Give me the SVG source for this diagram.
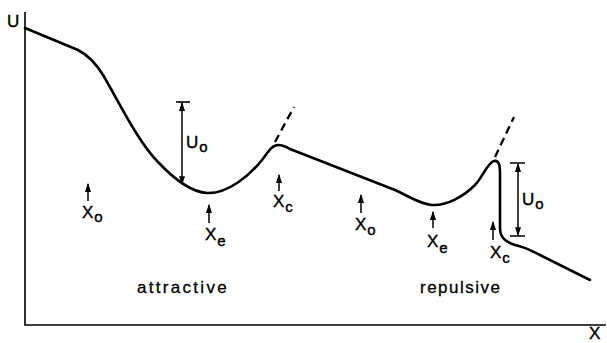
<svg xmlns="http://www.w3.org/2000/svg" width="607" height="343" viewBox="0 0 607 343">
<defs>
<marker id="ah" viewBox="0 0 8 6" refX="7" refY="3" markerWidth="9" markerHeight="7" markerUnits="userSpaceOnUse" orient="auto">
<path d="M0,0.3 L8,3 L0,5.7 z" fill="#000"/>
</marker>
<style>
.t{font-family:"Liberation Sans",Arial,sans-serif;fill:#000;stroke:#000;stroke-width:0.4}
.big{font-size:17px}
.sub{font-size:15px}
.word{font-size:17px;stroke-width:0.3}
.ar{stroke:#000;stroke-width:1.5;fill:none;marker-end:url(#ah)}
.ax{stroke:#000;stroke-width:1.6;fill:none}
.cv{stroke:#000;stroke-width:2.6;fill:none;stroke-linejoin:round;stroke-linecap:round}
.ds{stroke:#000;stroke-width:2.3;fill:none;stroke-dasharray:8,5}
</style>
</defs>
<rect width="607" height="343" fill="#fff"/>
<g id="axes">
<path class="ax" d="M25,12 L25,325 L606,325"/>
<text class="t big" x="7" y="27">U</text>
<text class="t big" x="589" y="339">X</text>
</g>
<g id="curve">
<path class="cv" d="M25,28 L78,50 C88,55 95,62 103,75 C118,100 138,142 158,162 C174,179 190,192 207,193 C228,194 250,175 262,160 C268,152 272,145 278,145 C282,145 285,146 290,149 L395,190 C410,197 420,204 432,205 C448,206 465,195 475,185 C482,178 488,162 494,161 C500,160 500,168 500,175 L500,228 C500,238 506,242 515,245 C525,247 530,250 540,255 L590,280"/>
<path class="ds" d="M275,142 L294,107"/>
<path class="ds" d="M495,157 L514,117"/>
</g>
<g id="connectors">
<path class="ax" d="M176,102 L190,102"/>
<path class="ar" d="M182,140 L182,103"/>
<path class="ar" d="M182,140 L182,184"/>
<path class="ax" d="M510,163 L525,163 M510,236 L525,236"/>
<path class="ar" d="M518,200 L518,164"/>
<path class="ar" d="M518,200 L518,235"/>
<path class="ar" d="M88,201 L88,184"/>
<path class="ar" d="M209,223 L209,205"/>
<path class="ar" d="M279,191 L279,175"/>
<path class="ar" d="M361,213 L361,195"/>
<path class="ar" d="M433,228 L433,212"/>
<path class="ar" d="M493,240 L493,222"/>
</g>
<g id="labels">
<text class="t big" x="186" y="148">U<tspan class="sub" dx="1" dy="4">o</tspan></text>
<text class="t big" x="522" y="205">U<tspan class="sub" dx="1" dy="4">o</tspan></text>
<text class="t big" x="82" y="218">X<tspan class="sub" dx="1" dy="4">o</tspan></text>
<text class="t big" x="205" y="240">X<tspan class="sub" dx="1" dy="6">e</tspan></text>
<text class="t big" x="273" y="207">X<tspan class="sub" dx="1" dy="5">c</tspan></text>
<text class="t big" x="355" y="230">X<tspan class="sub" dx="1" dy="5">o</tspan></text>
<text class="t big" x="427" y="247">X<tspan class="sub" dx="1" dy="6">e</tspan></text>
<text class="t big" x="490" y="258">X<tspan class="sub" dx="1" dy="5">c</tspan></text>
<text class="t word" x="137" y="293" style="letter-spacing:2.3px">attractive</text>
<text class="t word" x="420" y="293" style="letter-spacing:1.5px">repulsive</text>
</g>
</svg>
